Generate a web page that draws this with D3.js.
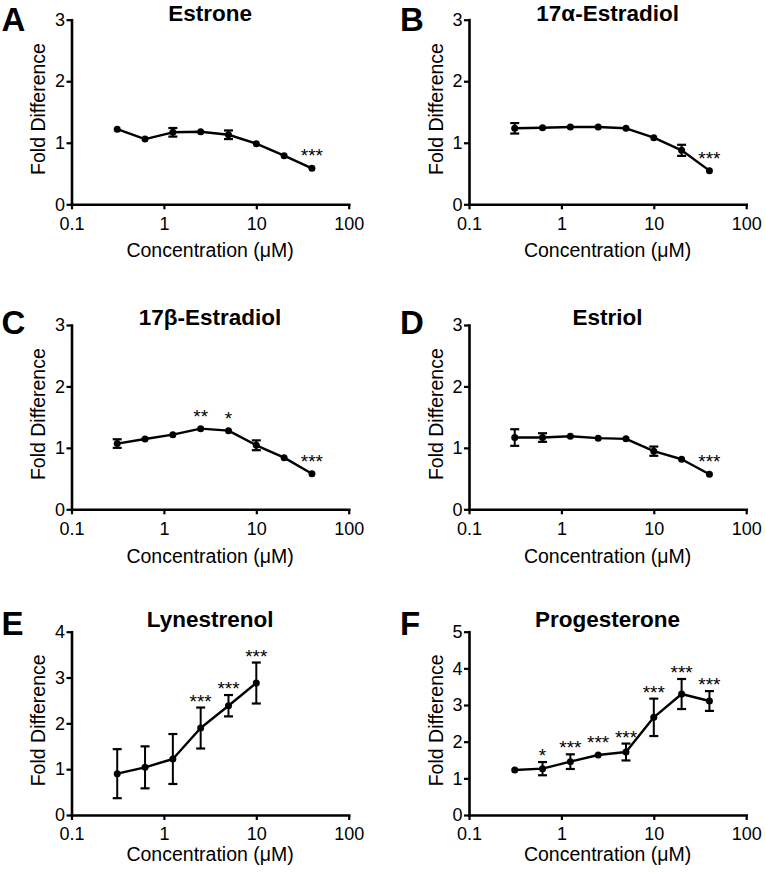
<!DOCTYPE html>
<html>
<head>
<meta charset="utf-8">
<script src="https://cdn.jsdelivr.net/npm/d3@7"></script>
<style>
  html, body { margin: 0; padding: 0; background: #fff; }
  svg { display: block; }
  text { font-family: "Liberation Sans", Arial, Helvetica, sans-serif; fill: #000; }
</style>
</head>
<body>
<svg id="chart" width="765" height="875"></svg>
<script>
// ---------------- DATA ----------------
const concentrations = [0.3125, 0.625, 1.25, 2.5, 5, 10, 20, 40];
const xTickValues = [0.1, 1, 10, 100];

const panelLetters = ["A", "B", "C", "D", "E", "F"];
const panelTitles = ["Estrone", "17\u03B1-Estradiol", "17\u03B2-Estradiol", "Estriol", "Lynestrenol", "Progesterone"];
const yMaxValues = [3, 3, 3, 3, 4, 5];

const estroneMean = [1.22, 1.06, 1.17, 1.18, 1.13, 0.985, 0.79, 0.585];
const estroneErr  = [0.02, 0.02, 0.07, 0.02, 0.07, 0.02, 0.02, 0.02];
const estroneSig  = ["", "", "", "", "", "", "", "***"];

const alphaMean = [1.235, 1.245, 1.257, 1.257, 1.235, 1.083, 0.877, 0.547];
const alphaErr  = [0.085, 0.02, 0.06, 0.05, 0.02, 0.02, 0.09, 0.02];
const alphaSig  = ["", "", "", "", "", "", "", "***"];

const betaMean = [1.07, 1.145, 1.215, 1.313, 1.28, 1.042, 0.841, 0.58];
const betaErr  = [0.07, 0.02, 0.02, 0.02, 0.02, 0.08, 0.02, 0.02];
const betaSig  = ["", "", "", "**", "*", "", "", "***"];

const estriolMean = [1.168, 1.168, 1.19, 1.158, 1.147, 0.946, 0.815, 0.571];
const estriolErr  = [0.135, 0.07, 0.02, 0.02, 0.02, 0.075, 0.06, 0.02];
const estriolSig  = ["", "", "", "", "", "", "", "***"];

const lynestrenolMean = [0.902, 1.04, 1.222, 1.898, 2.385, 2.88];
const lynestrenolErr  = [0.535, 0.458, 0.545, 0.447, 0.233, 0.447];
const lynestrenolSig  = ["", "", "", "***", "***", "***"];

const progesteroneMean = [1.227, 1.264, 1.455, 1.636, 1.718, 2.664, 3.3, 3.11];
const progesteroneErr  = [0.02, 0.18, 0.2, 0.07, 0.23, 0.51, 0.41, 0.27];
const progesteroneSig  = ["", "*", "***", "***", "***", "***", "***", "***"];

const seriesMeans = [estroneMean, alphaMean, betaMean, estriolMean, lynestrenolMean, progesteroneMean];
const seriesErrs  = [estroneErr, alphaErr, betaErr, estriolErr, lynestrenolErr, progesteroneErr];
const seriesSigs  = [estroneSig, alphaSig, betaSig, estriolSig, lynestrenolSig, progesteroneSig];

const xAxisTitle = "Concentration (\u03BCM)";
const yAxisTitle = "Fold Difference";

// ---------------- LAYOUT ----------------
const colX = [71.5, 469];
const plotW = 277.2;
const rowTop = [19.7, 325, 631.7];
const rowBottom = [204.3, 509.3, 815];
const letterBaseline = [30.5, 334, 635];
const titleBaseline = [20.5, 325, 627];
const xTitleOffset = [53, 54, 46];
const letterX = [1.5, 400];

const svg = d3.select("#chart");

panelTitles.forEach((title, i) => {
  const col = i % 2, row = Math.floor(i / 2);
  const x0 = colX[col], x1 = x0 + plotW;
  const top = rowTop[row], bottom = rowBottom[row];

  const x = d3.scaleLog().domain([0.1, 100]).range([x0, x1]);
  const y = d3.scaleLinear().domain([0, yMaxValues[i]]).range([bottom, top]);

  const means = seriesMeans[i], errs = seriesErrs[i], sigs = seriesSigs[i];
  const pts = means.map((m, k) => ({ c: concentrations[k], m, e: errs[k], s: sigs[k] }));

  const g = svg.append("g");

  // axes
  const xAxis = d3.axisBottom(x).tickValues(xTickValues)
    .tickFormat(d => d3.format("~g")(d)).tickSize(5).tickSizeOuter(0).tickPadding(7.5);
  const yAxis = d3.axisLeft(y).ticks(yMaxValues[i]).tickFormat(d3.format("d"))
    .tickSize(5).tickSizeOuter(0).tickPadding(1.5);

  const gx = g.append("g").attr("transform", `translate(0,${bottom})`).call(xAxis);
  const gy = g.append("g").attr("transform", `translate(${x0},0)`).call(yAxis);
  [gx, gy].forEach(a => {
    a.select(".domain").attr("stroke", "#000").attr("stroke-width", 2.6).attr("stroke-linecap", "square");
    a.selectAll(".tick line").attr("stroke", "#000").attr("stroke-width", 2.2);
    a.selectAll(".tick text").attr("font-size", 18)
      .attr("font-family", "'Liberation Sans', Arial, sans-serif").attr("fill", "#000");
  });
  gy.selectAll(".tick text").attr("dy", "0.32em");

  // error bars (hidden when inside the symbol, as in the original)
  const r = 3.5, capHalf = 4.5;
  pts.forEach(p => {
    const yt = y(p.m + p.e), yb = y(p.m - p.e);
    if (y(p.m) - yt <= r + 0.5) return;
    const cx = x(p.c);
    g.append("line").attr("x1", cx).attr("x2", cx).attr("y1", yt).attr("y2", yb)
      .attr("stroke", "#000").attr("stroke-width", 2);
    [yt, yb].forEach(yy => g.append("line")
      .attr("x1", cx - capHalf).attr("x2", cx + capHalf).attr("y1", yy).attr("y2", yy)
      .attr("stroke", "#000").attr("stroke-width", 2.2));
  });

  // line
  g.append("path").datum(pts)
    .attr("d", d3.line().x(d => x(d.c)).y(d => y(d.m)))
    .attr("fill", "none").attr("stroke", "#000").attr("stroke-width", 2.4)
    .attr("stroke-linejoin", "round");

  // points
  g.selectAll("circle.pt").data(pts).enter().append("circle")
    .attr("cx", d => x(d.c)).attr("cy", d => y(d.m)).attr("r", r).attr("fill", "#000");

  // significance stars
  pts.filter(d => d.s).forEach(d => {
    const yTop = Math.min(y(d.m) - 16, y(d.m + d.e) - 10);
    g.append("text").attr("x", x(d.c)).attr("y", yTop + 10)
      .attr("text-anchor", "middle").attr("font-size", 19).text(d.s);
  });

  // titles
  g.append("text").attr("x", (x0 + x1) / 2).attr("y", titleBaseline[row])
    .attr("text-anchor", "middle").attr("font-size", 22.5).attr("font-weight", "bold").text(title);
  g.append("text").attr("x", letterX[col]).attr("y", letterBaseline[row])
    .attr("font-size", 33).attr("font-weight", "bold").text(panelLetters[i]);

  // axis titles
  g.append("text").attr("x", (x0 + x1) / 2).attr("y", bottom + xTitleOffset[row])
    .attr("text-anchor", "middle").attr("font-size", 19.5).text(xAxisTitle);
  g.append("text")
    .attr("transform", `translate(${x0 - 26.5},${(top + bottom) / 2 - 3}) rotate(-90)`)
    .attr("text-anchor", "middle").attr("font-size", 19.5).text(yAxisTitle);
});
</script>
</body>
</html>
